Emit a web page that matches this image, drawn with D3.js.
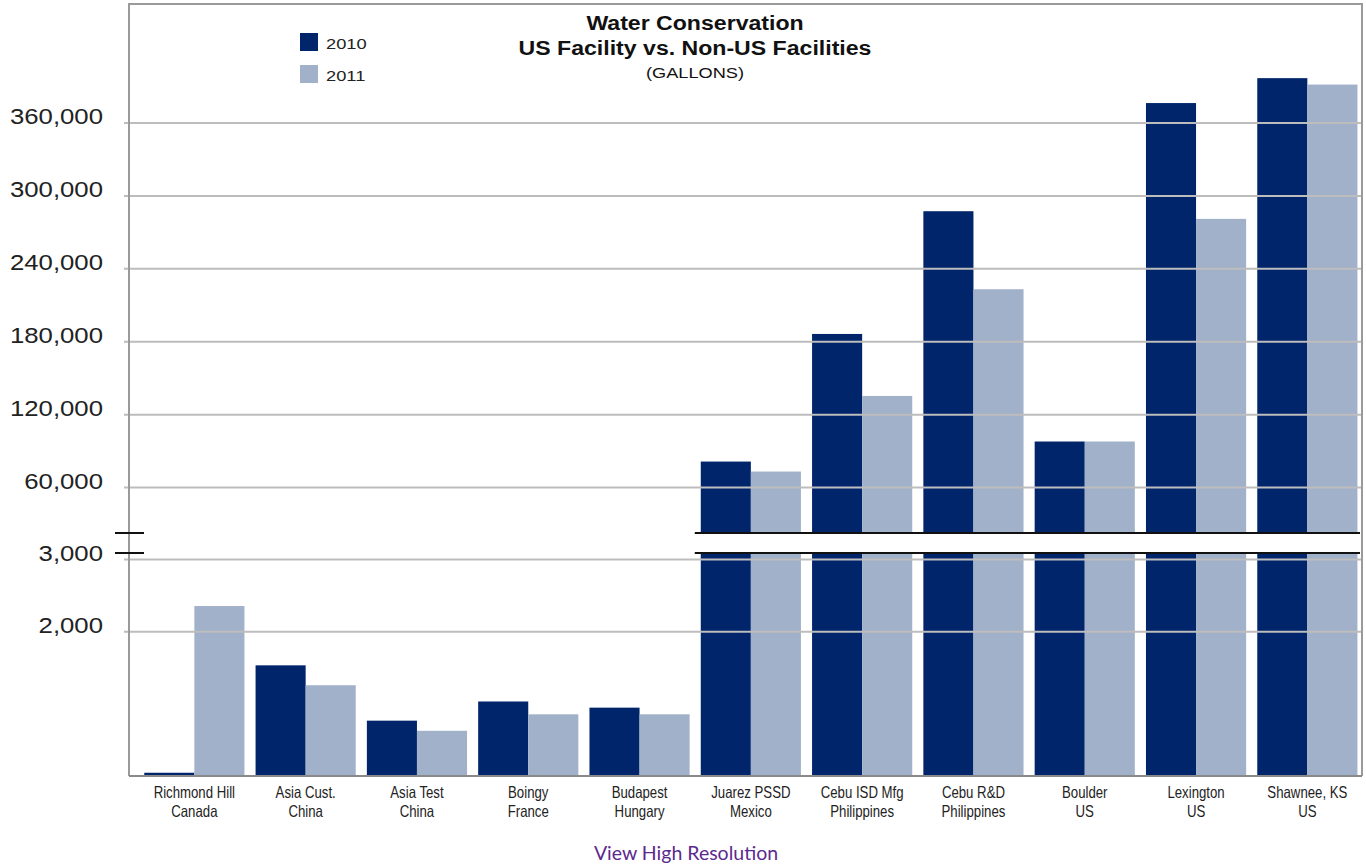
<!DOCTYPE html>
<html>
<head>
<meta charset="utf-8">
<script src="https://cdn.jsdelivr.net/npm/d3@7"></script>
<style>
  body { margin: 0; background: #fff; }
  svg { display: block; }
</style>
</head>
<body>
<div id="container"></div>
<script>
const sites = ["Richmond Hill", "Asia Cust.", "Asia Test", "Boingy", "Budapest", "Juarez PSSD", "Cebu ISD Mfg", "Cebu R&D", "Boulder", "Lexington", "Shawnee, KS"];
const countries = ["Canada", "China", "China", "France", "Hungary", "Mexico", "Philippines", "Philippines", "US", "US", "US"];
const years = ["2010", "2011"];
const values2010 = [45, 1530, 765, 1030, 945, 81000, 186000, 287000, 97500, 376000, 396500];
const values2011 = [2350, 1255, 625, 853, 853, 72800, 135000, 222800, 97500, 280700, 391200];
const lowerTicks = [2000, 3000];
const upperTicks = [60000, 120000, 180000, 240000, 300000, 360000];
const colors = ["#00256a", "#a2b1ca"];

const width = 1366;
const height = 865;
const plotLeft = 129;
const plotRight = 1362;
const plotTop = 4;
const plotBottom = 776;
const breakTop = 533;
const breakBottom = 553;

const x = d3.scaleBand(sites, [138.7, 1363]).paddingInner(0.1).paddingOuter(0.05);
const xs = d3.scaleBand(years, [0, x.bandwidth()]);
const yLow = d3.scaleLinear([0, 3000], [plotBottom, 559]);
const yHigh = d3.scaleLinear([0, 360000], [560, 122.5]);

const rows = [];
sites.forEach((s, i) => {
  rows.push({site: s, year: "2010", value: values2010[i]});
  rows.push({site: s, year: "2011", value: values2011[i]});
});

const svg = d3.create("svg")
  .attr("width", width)
  .attr("height", height)
  .style("font-family", "'Liberation Sans', Arial, sans-serif");

// bars: lower segment, and upper segment when value goes past the break
const bars = svg.append("g");
rows.forEach(d => {
  const bx = x(d.site) + xs(d.year);
  const fill = colors[years.indexOf(d.year)];
  if (d.value <= 3000) {
    bars.append("rect")
      .attr("x", bx).attr("width", xs.bandwidth())
      .attr("y", yLow(d.value)).attr("height", yLow(0) - yLow(d.value))
      .attr("fill", fill);
  } else {
    bars.append("rect")
      .attr("x", bx).attr("width", xs.bandwidth())
      .attr("y", breakBottom).attr("height", yLow(0) - breakBottom)
      .attr("fill", fill);
    bars.append("rect")
      .attr("x", bx).attr("width", xs.bandwidth())
      .attr("y", yHigh(d.value)).attr("height", breakTop - yHigh(d.value))
      .attr("fill", fill);
  }
});

// gridlines + tick labels
const sx = 1.12;
function grid(scale, ticks) {
  const g = svg.append("g")
    .attr("transform", `translate(124,0)`)
    .call(d3.axisLeft(scale).tickValues(ticks).tickFormat(d3.format(","))
      .tickSize(-(plotRight - 124)).tickPadding(21));
  g.select(".domain").remove();
  g.selectAll(".tick line").attr("stroke", "#bdbdbd").attr("stroke-width", 2);
  g.selectAll(".tick text")
    .attr("font-size", 23)
    .attr("font-family", "'Liberation Sans', Arial, sans-serif")
    .attr("fill", "#222")
    .attr("dy", "1")
    .attr("x", -21 / sx)
    .attr("transform", `scale(${sx},1)`);
}
grid(yHigh, upperTicks);
grid(yLow, lowerTicks);

// frame
svg.append("path")
  .attr("d", `M${plotLeft},${plotBottom}V${plotTop}H${plotRight}V${plotBottom}`)
  .attr("fill", "none").attr("stroke", "#9a9a9a").attr("stroke-width", 2);
svg.append("line")
  .attr("x1", plotLeft).attr("x2", plotRight)
  .attr("y1", plotBottom).attr("y2", plotBottom)
  .attr("stroke", "#8a8a8a").attr("stroke-width", 2);

// break
const bx0 = x("Juarez PSSD") - 6;
svg.append("rect")
  .attr("x", bx0).attr("y", breakTop).attr("width", plotRight - bx0 - 1).attr("height", breakBottom - breakTop)
  .attr("fill", "#fff");
[breakTop, breakBottom].forEach(yy => {
  svg.append("line")
    .attr("x1", bx0).attr("x2", plotRight - 2).attr("y1", yy).attr("y2", yy)
    .attr("stroke", "#111").attr("stroke-width", 2);
  svg.append("line")
    .attr("x1", 115).attr("x2", 144).attr("y1", yy).attr("y2", yy)
    .attr("stroke", "#111").attr("stroke-width", 2);
});

// x labels
const xl = svg.append("g");
sites.forEach((s, i) => {
  const cx = x(s) + x.bandwidth() / 2;
  [s, countries[i]].forEach((t, k) => {
    xl.append("text")
      .attr("transform", `translate(${cx},${798 + k * 19}) scale(0.8,1)`)
      .attr("text-anchor", "middle")
      .attr("font-size", 16.5)
      .attr("fill", "#222")
      .text(t);
  });
});

// title
const title = [["Water Conservation", 21, "bold", 30, 1.1], ["US Facility vs. Non-US Facilities", 21, "bold", 55, 1.1], ["(GALLONS)", 14, "normal", 78, 1.3]];
title.forEach(([t, fs, fw, yy, k]) => {
  svg.append("text")
    .attr("transform", `translate(695,${yy}) scale(${k},1)`)
    .attr("text-anchor", "middle")
    .attr("font-size", fs).attr("font-weight", fw)
    .attr("fill", "#111")
    .text(t);
});

// legend
years.forEach((yr, i) => {
  svg.append("rect")
    .attr("x", 300).attr("y", 33 + i * 32).attr("width", 18).attr("height", 18)
    .attr("fill", colors[i]);
  svg.append("text")
    .attr("transform", `translate(326,${49 + i * 32}) scale(1.18,1)`)
    .attr("font-size", 15.5).attr("fill", "#222")
    .text(yr);
});

// link
svg.append("text")
  .attr("x", 686).attr("y", 860)
  .attr("text-anchor", "middle")
  .attr("font-family", "Lato, 'Open Sans', sans-serif")
  .attr("font-size", 19.5).attr("fill", "#5b2a8f")
  .text("View High Resolution");

document.getElementById("container").append(svg.node());
</script>
</body>
</html>
